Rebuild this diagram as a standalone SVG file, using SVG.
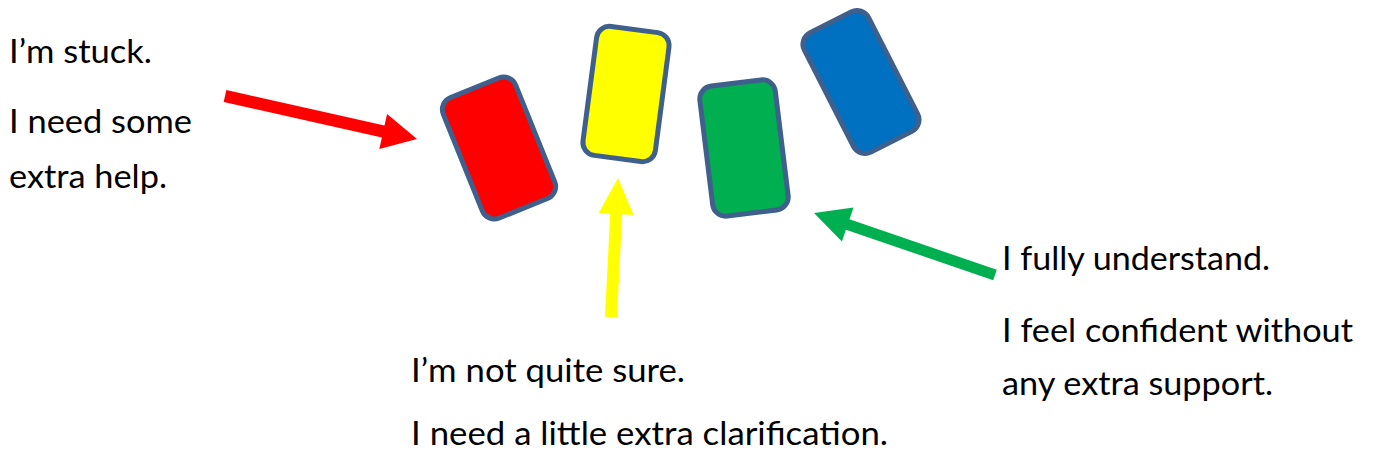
<svg xmlns="http://www.w3.org/2000/svg" width="1373" height="459" viewBox="0 0 1373 459">
<style>
.card{stroke:#3F5F8C;stroke-width:5}
.t{font-family:Lato,"Open Sans","Liberation Sans",sans-serif;font-size:33px;fill:#000}
</style>
<rect width="1373" height="459" fill="#fff"/>
<g id="card-red" transform="translate(499,148) rotate(-22)"><rect class="card" x="-39" y="-65" width="78" height="130" rx="13" fill="#FF0000"/></g>
<g id="card-yellow" transform="translate(626,94) rotate(7.5)"><rect class="card" x="-36.5" y="-65" width="73" height="130" rx="13" fill="#FFFF00"/></g>
<g id="card-green" transform="translate(744,148) rotate(-7)"><rect class="card" x="-38" y="-65.5" width="76" height="131" rx="13" fill="#00B050"/></g>
<g id="card-blue" transform="translate(861,82) rotate(-27)"><rect class="card" x="-36" y="-67" width="72" height="134" rx="13" fill="#0070C0"/></g>
<g id="connectors">
<polygon fill="#FF0000" points="226.3,90.1 384.5,125.6 387.1,113.9 417,139 379.3,149.1 381.9,137.4 223.7,101.9"/>
<polygon fill="#FFFF00" points="605,316.7 610.2,213.7 598.7,213.1 618,178 633.7,214.9 622.2,214.3 617,317.3"/>
<polygon fill="#00B050" points="996.8,269.8 849.5,219.3 853.5,207.5 814,213 841.9,241.5 845.9,229.7 993.2,280.2"/>
</g>
<g id="label-red">
<text class="t" x="9" y="63" textLength="143" lengthAdjust="spacingAndGlyphs">I’m stuck.</text>
<text class="t" x="9" y="133" textLength="183" lengthAdjust="spacingAndGlyphs">I need some</text>
<text class="t" x="9" y="188" textLength="158" lengthAdjust="spacingAndGlyphs">extra help.</text>
</g>
<g id="label-yellow">
<text class="t" x="411" y="382" textLength="274" lengthAdjust="spacingAndGlyphs">I’m not quite sure.</text>
<text class="t" x="411" y="445" textLength="477" lengthAdjust="spacingAndGlyphs">I need a little extra clarification.</text>
</g>
<g id="label-green">
<text class="t" x="1002" y="270" textLength="268" lengthAdjust="spacingAndGlyphs">I fully understand.</text>
<text class="t" x="1002" y="342" textLength="351" lengthAdjust="spacingAndGlyphs">I feel confident without</text>
<text class="t" x="1002" y="395" textLength="271" lengthAdjust="spacingAndGlyphs">any extra support.</text>
</g>
</svg>
